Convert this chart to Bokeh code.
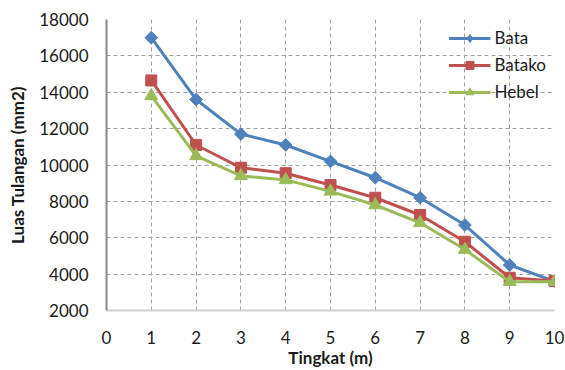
import math
from bokeh.plotting import figure
from bokeh.models import Range1d, FixedTicker, Legend, LegendItem
from bokeh.embed import file_html
from bokeh.resources import INLINE

tingkat = [1, 2, 3, 4, 5, 6, 7, 8, 9, 10]
bata = [17000, 13600, 11700, 11100, 10200, 9300, 8200, 6700, 4500, 3600]
batako = [14650, 11100, 9850, 9550, 8900, 8200, 7250, 5780, 3800, 3620]
hebel = [13800, 10500, 9400, 9180, 8550, 7800, 6820, 5350, 3580, 3580]

x_ticks = list(range(0, 11))
y_ticks = list(range(2000, 18001, 2000))

FONT = "Lato"

p = figure(width=565, height=370, output_backend="svg", toolbar_location=None,
           x_range=Range1d(0, 10), y_range=Range1d(2000, 18000),
           min_border_left=106, min_border_right=11, min_border_top=19,
           min_border_bottom=57)
p.outline_line_color = None
p.background_fill_color = "white"
p.border_fill_color = "white"

for g in (p.xgrid, p.ygrid):
    g.grid_line_color = "#a0a0a0"
    g.grid_line_dash = "4 3"
    g.grid_line_width = 1

p.xaxis.ticker = FixedTicker(ticks=x_ticks)
p.yaxis.ticker = FixedTicker(ticks=y_ticks)
p.xgrid.ticker = FixedTicker(ticks=x_ticks)
p.ygrid.ticker = FixedTicker(ticks=y_ticks)

for ax in (p.xaxis, p.yaxis):
    ax.major_tick_line_color = None
    ax.minor_tick_line_color = None
    ax.major_tick_out = 0
    ax.major_tick_in = 0
    ax.major_label_text_font = FONT
    ax.major_label_text_font_size = "17px"
    ax.major_label_text_color = "#1a1a1a"
    ax.axis_label_text_font = FONT
    ax.axis_label_text_font_size = "17px"
    ax.axis_label_text_font_style = "bold"
    ax.axis_label_text_color = "#1a1a1a"

p.xaxis.axis_line_color = "#d0d0d0"
p.xaxis.axis_line_width = 2
p.yaxis.axis_line_color = "#8a8a8a"
p.yaxis.axis_line_width = 2
p.xaxis.major_label_standoff = 20
p.xaxis.axis_label = "Tingkat (m)"
p.xaxis.axis_label_standoff = 0
p.yaxis.major_label_standoff = 18
p.yaxis.axis_label = "Luas Tulangan (mm2)"
p.yaxis.axis_label_standoff = 8

c_bata = "#4F81BD"
c_batako = "#C0504D"
c_hebel = "#9BBB59"

l1 = p.line(tingkat, bata, line_color=c_bata, line_width=3)
m1 = p.scatter(tingkat, bata, marker="square", size=9, angle=math.pi / 4, color=c_bata)
# legend-only proxy, placed outside the visible ranges
m1_leg = p.scatter([-50], [-50000], marker="diamond", size=17, color=c_bata)
l2 = p.line(tingkat, batako, line_color=c_batako, line_width=3)
m2 = p.scatter(tingkat, batako, marker="square", size=11, color=c_batako)
l3 = p.line(tingkat, hebel, line_color=c_hebel, line_width=3)
m3 = p.scatter(tingkat, hebel, marker="triangle", size=13, color=c_hebel)

legend = Legend(items=[
    LegendItem(label="Bata", renderers=[l1, m1_leg]),
    LegendItem(label="Batako", renderers=[l2, m2]),
    LegendItem(label="Hebel", renderers=[l3, m3]),
], location="top_right")
legend.background_fill_alpha = 0
legend.border_line_color = None
legend.label_text_font = FONT
legend.label_text_font_size = "17px"
legend.label_text_color = "#1a1a1a"
legend.glyph_width = 42
legend.glyph_height = 20
legend.spacing = 6
legend.label_standoff = 4
legend.margin = 8
legend.padding = 4
p.add_layout(legend)

open("out.html", "w").write(file_html(p, INLINE))
